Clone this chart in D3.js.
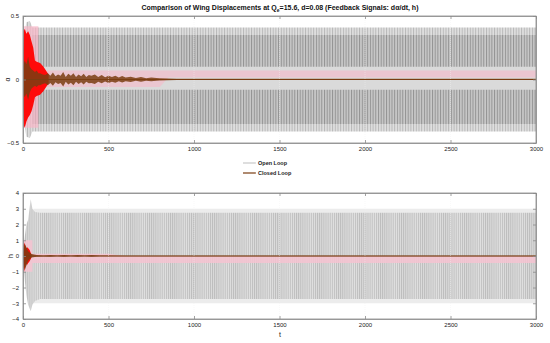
<!DOCTYPE html>
<html lang="en">
<head>
<meta charset="UTF-8">
<title>Comparison of Wing Displacements</title>
<script src="https://d3js.org/d3.v7.min.js"></script>
<style>
    body { margin: 0; background: #fff; }
    svg { display: block; font-family: "Liberation Sans", Arial, sans-serif; }
    .tick text { font-size: 6px; fill: #222; }
</style>
</head>
<body>
<svg id="chart"></svg>
<script>
// ---- data ----
const tTicks = [0, 500, 1000, 1500, 2000, 2500, 3000];
const alphaTicks = [-0.5, 0, 0.5];
const hTicks = [-4, -3, -2, -1, 0, 1, 2, 3, 4];

// alpha, open loop envelope (outer) and the denser inner part
const openAlphaT   = [0, 20, 40, 55, 3000];
const openAlphaUp  = [0.30, 0.45, 0.46, 0.41, 0.41];
const openAlphaLow = [-0.30, -0.45, -0.46, -0.41, -0.41];
const innerAlphaT   = [55, 3000];
const innerAlphaUp  = [0.35, 0.35];
const innerAlphaLow = [-0.35, -0.35];
// alpha, open loop smooth core near zero
const coreAlphaT   = [55, 3000];
const coreAlphaUp  = [0.10, 0.10];
const coreAlphaLow = [-0.08, -0.08];

// alpha, closed loop
const pinkAlphaT   = [0, 800, 850, 3000];
const pinkAlphaUp  = [0.07, 0.07, 0.07, 0.07];
const pinkAlphaLow = [-0.06, -0.06, 0.015, 0.015];
const burstAlphaT   = [0, 5, 10, 20, 30, 40, 50, 60, 70, 80, 100, 120, 140, 150];
const burstAlphaUp  = [0.20, 0.38, 0.40, 0.36, 0.38, 0.35, 0.30, 0.25, 0.15, 0.14, 0.13, 0.10, 0.06, 0.04];
const burstAlphaLow = [-0.20, -0.36, -0.38, -0.33, -0.30, -0.28, -0.25, -0.20, -0.14, -0.13, -0.12, -0.09, -0.05, -0.03];
const tailAlphaT = [0, 10, 20, 30, 40, 50, 60, 70, 80, 90, 100, 115, 130, 145, 160, 175, 190, 205, 220, 235,
    250, 265, 280, 295, 310, 325, 340, 355, 370, 385, 400, 420, 440, 460, 480, 500, 520, 540, 560, 580,
    600, 630, 660, 690, 720, 750, 780, 800, 850, 900, 3000];
const tailAlphaUp = [0.1, 0.15, 0.12, 0.18, 0.1, 0.08, 0.07, 0.06, 0.07, 0.05, 0.05, 0.04, 0.035, 0.05, 0.03, 0.055, 0.025, 0.04, 0.03, 0.06,
    0.02, 0.045, 0.03, 0.05, 0.02, 0.04, 0.025, 0.045, 0.02, 0.035, 0.03, 0.04, 0.02, 0.035, 0.018, 0.03, 0.02, 0.03, 0.015, 0.028,
    0.015, 0.022, 0.012, 0.02, 0.01, 0.016, 0.012, 0.01, 0.008, 0.006, 0.005];
const tailAlphaLow = [-0.1, -0.14, -0.11, -0.16, -0.1, -0.07, -0.06, -0.05, -0.06, -0.045, -0.045, -0.035, -0.03, -0.045, -0.028, -0.05, -0.022, -0.035, -0.028, -0.055,
    -0.018, -0.04, -0.025, -0.045, -0.018, -0.035, -0.022, -0.04, -0.018, -0.03, -0.028, -0.035, -0.018, -0.03, -0.016, -0.028, -0.018, -0.026, -0.013, -0.024,
    -0.013, -0.02, -0.01, -0.017, -0.009, -0.014, -0.01, -0.008, -0.006, -0.004, -0.003];

// h, open loop envelope
const openHT   = [0, 10, 20, 30, 45, 55, 70, 100, 3000];
const openHUp  = [0.5, 1.2, 2.0, 2.3, 3.6, 3.0, 2.8, 2.75, 2.75];
const openHLow = [-0.5, -1.5, -2.5, -3.1, -3.5, -3.1, -2.85, -2.73, -2.73];
const haloHT   = [60, 3000];
const haloHUp  = [3.0, 3.0];
const haloHLow = [-3.0, -3.0];

// h, closed loop
const pinkHT   = [0, 55, 55.1, 500, 600, 3000];
const pinkHUp  = [1.0, 1.0, 0.15, 0.15, 0.0, 0.0];
const pinkHLow = [-1.0, -1.0, -0.45, -0.45, -0.45, -0.45];
const burstHT   = [0, 3, 6, 10, 15, 20, 25, 30, 35, 40, 45, 50];
const burstHUp  = [0.1, 0.6, 0.85, 0.75, 0.6, 0.5, 0.55, 0.5, 0.45, 0.35, 0.2, 0.08];
const burstHLow = [-0.1, -0.7, -1.0, -0.8, -0.6, -0.5, -0.55, -0.45, -0.4, -0.3, -0.2, -0.08];
const tailHT   = [0, 10, 30, 50, 80, 120, 160, 200, 240, 280, 320, 360, 400, 450, 500, 600, 700, 3000];
const tailHUp  = [0.2, 0.8, 0.3, 0.12, 0.07, 0.03, 0.06, 0.03, 0.06, 0.035, 0.07, 0.03, 0.06, 0.025, 0.035, 0.02, 0.015, 0.015];
const tailHLow = [-0.2, -0.9, -0.3, -0.1, -0.05, -0.03, -0.04, -0.02, -0.04, -0.02, -0.04, -0.02, -0.04, -0.02, -0.02, -0.015, -0.012, -0.012];

const legendLabels = ["Open Loop", "Closed Loop"];

// ---- layout ----
const width = 550, height = 343;
const svg = d3.select("#chart").attr("width", width).attr("height", height);

const defs = svg.append("defs");
function stripes(id, w, bg, fg) {
    const p = defs.append("pattern").attr("id", id)
        .attr("patternUnits", "userSpaceOnUse").attr("width", w).attr("height", 10);
    p.append("rect").attr("width", w).attr("height", 10).attr("fill", bg);
    p.append("rect").attr("width", 1).attr("height", 10).attr("fill", fg);
}
stripes("stripeTopLight", 2.7, "#e0e0e0", "#b8b8b8");
stripes("stripeTop", 2.7, "#c8c8c8", "#929292");
stripes("stripeBot", 2.1, "#e0e0e0", "#bdbdbd");

const x = d3.scaleLinear().domain([0, 3000]).range([23, 536]);

function zip(ts, up, low) { return ts.map((t, i) => ({ t, up: up[i], low: low[i] })); }

function panel(top, bottom, yDomain, yTicks, yFmt, yLabel, layers) {
    const y = d3.scaleLinear().domain(yDomain).range([bottom, top]);
    const g = svg.append("g");
    const clip = "clip" + top;
    defs.append("clipPath").attr("id", clip).append("rect")
        .attr("x", 23).attr("y", top).attr("width", 513).attr("height", bottom - top);
    const plot = g.append("g").attr("clip-path", `url(#${clip})`);

    layers.forEach(L => {
        const area = d3.area().x(d => x(d.t)).y0(d => y(d.low)).y1(d => y(d.up));
        plot.append("path").datum(zip(L.t, L.up, L.low))
            .attr("d", area).attr("fill", L.fill).attr("opacity", L.opacity || 1);
    });

    // centre line of the closed loop
    plot.append("line").attr("x1", x(0)).attr("x2", x(3000))
        .attr("y1", y(0)).attr("y2", y(0))
        .attr("stroke", "#7a3d12").attr("stroke-width", 1.2);

    // grid
    plot.selectAll(".grid").data(tTicks.slice(1, -1)).enter().append("line")
        .attr("x1", d => x(d)).attr("x2", d => x(d)).attr("y1", top).attr("y2", bottom)
        .attr("stroke", "#f4f4f4").attr("stroke-width", 0.6)
        .attr("stroke-dasharray", "1,1").attr("opacity", 0.7);

    // axes (inward ticks all round)
    const axOpts = ax => ax.tickSizeInner(-3).tickSizeOuter(0).tickPadding(4);
    g.append("g").attr("transform", `translate(0,${bottom})`)
        .call(axOpts(d3.axisBottom(x).tickValues(tTicks).tickFormat(d3.format("d"))));
    g.append("g").attr("transform", `translate(0,${top})`)
        .call(axOpts(d3.axisTop(x).tickValues(tTicks).tickFormat("")));
    g.append("g").attr("transform", `translate(23,0)`)
        .call(axOpts(d3.axisLeft(y).tickValues(yTicks).tickFormat(yFmt)));
    g.append("g").attr("transform", `translate(536,0)`)
        .call(axOpts(d3.axisRight(y).tickValues(yTicks).tickFormat("")));
    g.selectAll(".domain, .tick line").attr("stroke", "#8a8a8a").attr("stroke-width", 0.8);
    g.append("rect").attr("x", 23).attr("y", top).attr("width", 513).attr("height", bottom - top)
        .attr("fill", "none").attr("stroke", "#8a8a8a").attr("stroke-width", 0.8);

    g.append("text").attr("transform", `translate(${yLabel.x},${(top + bottom) / 2}) rotate(-90)`)
        .attr("text-anchor", "middle").attr("font-size", 7).attr("fill", "#222").text(yLabel.text);
    return y;
}

panel(16, 143, [-0.5, 0.5], alphaTicks, d => d === 0 ? "0" : d3.format(".1f")(d), { x: 10, text: "α" }, [
    { t: openAlphaT, up: openAlphaUp, low: openAlphaLow, fill: "url(#stripeTopLight)" },
    { t: innerAlphaT, up: innerAlphaUp, low: innerAlphaLow, fill: "url(#stripeTop)" },
    { t: coreAlphaT, up: coreAlphaUp, low: coreAlphaLow, fill: "#dadada" },
    { t: pinkAlphaT, up: pinkAlphaUp, low: pinkAlphaLow, fill: "#f4bccb", opacity: 0.65 },
    { t: [0, 90], up: [0.42, 0.42], low: [-0.38, -0.38], fill: "#f9b6c8", opacity: 0.7 },
    { t: burstAlphaT, up: burstAlphaUp, low: burstAlphaLow, fill: "#ff0a0a" },
    { t: tailAlphaT, up: tailAlphaUp, low: tailAlphaLow, fill: "#7a3d12", opacity: 0.85 }
]);

panel(193, 319, [-4, 4], hTicks, d3.format("d"), { x: 13, text: "h" }, [
    { t: haloHT, up: haloHUp, low: haloHLow, fill: "#ececec" },
    { t: openHT, up: openHUp, low: openHLow, fill: "url(#stripeBot)" },
    { t: pinkHT, up: pinkHUp, low: pinkHLow, fill: "#f6c3d1", opacity: 0.85 },
    { t: burstHT, up: burstHUp, low: burstHLow, fill: "#ff0a0a" },
    { t: tailHT, up: tailHUp, low: tailHLow, fill: "#7a3d12", opacity: 0.85 }
]);

// x label
svg.append("text").attr("x", 280).attr("y", 337).attr("text-anchor", "middle")
    .attr("font-size", 7).attr("fill", "#222").text("t");

// title
const title = svg.append("text").attr("x", 280).attr("y", 10).attr("text-anchor", "middle")
    .attr("font-size", 7).attr("font-weight", "bold").attr("fill", "#111");
title.append("tspan").text("Comparison of Wing Displacements  at  Q");
title.append("tspan").attr("font-size", 5).attr("dy", 1.5).text("e");
title.append("tspan").attr("dy", -1.5).text("=15.6, d=0.08  (Feedback Signals: dα/dt, h)");

// legend
const legend = svg.append("g").attr("font-size", 5.5).attr("font-weight", "bold").attr("fill", "#222");
const legendColors = ["#c8c8c8", "#7a3d12"];
legendLabels.forEach((lab, i) => {
    const ly = 163 + i * 10;
    legend.append("line").attr("x1", 243).attr("x2", 256).attr("y1", ly).attr("y2", ly)
        .attr("stroke", legendColors[i]).attr("stroke-width", 1.2);
    legend.append("text").attr("x", 258).attr("y", ly + 2).text(lab);
});
</script>
</body>
</html>
